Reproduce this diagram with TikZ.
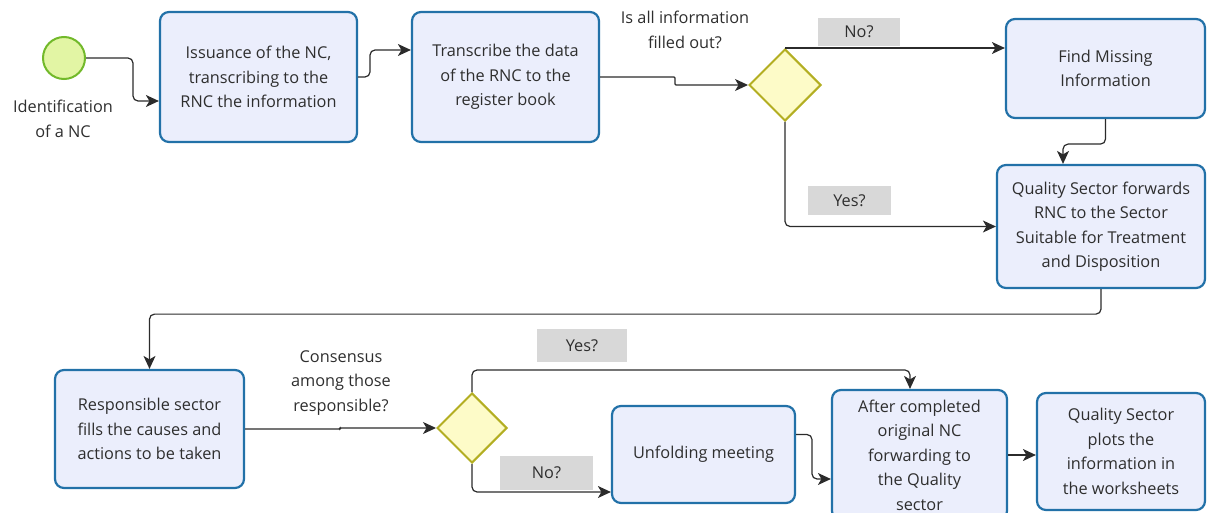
\documentclass[tikz,border=0pt]{standalone}
\usepackage{fontspec}
\setmainfont{Open Sans}
\usetikzlibrary{shapes.geometric,arrows.meta,calc}
\definecolor{boxfill}{HTML}{EBEEFC}
\definecolor{boxline}{HTML}{2271A8}
\definecolor{gatefill}{HTML}{FDFBC8}
\definecolor{gateline}{HTML}{B3AE22}
\definecolor{startfill}{HTML}{E2F5A4}
\definecolor{startline}{HTML}{72B92A}
\definecolor{flowc}{HTML}{2B2B2B}
\definecolor{txt}{HTML}{2E2E2E}
\definecolor{labfill}{HTML}{D8D8D8}
\begin{document}
\begin{tikzpicture}[x=1pt,y=-1pt,
  task/.style={draw=boxline, fill=boxfill, line width=2.2pt, rounded corners=9pt,
    align=center, text=txt, font=\fontsize{16.3}{24.5}\selectfont, inner sep=0pt},
  gate/.style={diamond, draw=gateline, fill=gatefill, line width=2pt,
    minimum width=72pt, minimum height=72pt, inner sep=0pt},
  flow/.style={draw=flowc, line width=1.2pt, -{Stealth[length=13pt,width=12pt,inset=3.5pt]}, rounded corners=5pt},
  lab/.style={fill=labfill, text=txt, font=\fontsize{16.3}{18}\selectfont, inner sep=0pt},
  plain/.style={align=center, text=txt, font=\fontsize{16.3}{24.5}\selectfont, inner sep=0pt}
]
\useasboundingbox (0,0) rectangle (1212,513);

% events and gateways
\node[circle, draw=startline, fill=startfill, line width=2pt, minimum size=42pt, inner sep=0pt] (start) at (64,58) {};
\node[plain] (startlab) at (63,119) {Identification\\of a NC};

\node[task, minimum width=197pt, minimum height=130pt] (b1) at (258.5,77) {Issuance of the NC,\\transcribing to the\\RNC the information};
\node[task, minimum width=187pt, minimum height=130pt] (b2) at (505.5,77) {Transcribe the data\\of the RNC to the\\register book};
\node[gate] (g1) at (785,85) {};
\node[plain] (q1) at (685,30) {Is all information\\filled out?};
\node[task, minimum width=199pt, minimum height=99pt] (b3) at (1105.5,68.5) {Find Missing\\Information};
\node[task, minimum width=208pt, minimum height=123pt] (b4) at (1101,226.5) {Quality Sector forwards\\RNC to the Sector\\Suitable for Treatment\\and Disposition};
\node[lab, minimum width=82pt, minimum height=28pt] (no1) at (859,32) {No?};
\node[lab, minimum width=83pt, minimum height=29pt] (yes1) at (849.5,200.5) {Yes?};

\node[task, minimum width=189pt, minimum height=118pt] (b5) at (149.5,429) {Responsible sector\\fills the causes and\\actions to be taken};
\node[plain] (q2) at (341,383) {Consensus\\among those\\responsible?};
\node[gate, minimum width=70pt, minimum height=70pt] (g2) at (472,428) {};
\node[task, minimum width=183pt, minimum height=97pt] (b6) at (703.5,454.5) {Unfolding meeting};
\node[task, minimum width=175pt, minimum height=130pt] (b7) at (919.5,455) {After completed\\original NC\\forwarding to\\the Quality\\sector};
\node[task, minimum width=168pt, minimum height=117pt] (b8) at (1121,451.5) {Quality Sector\\plots the\\information in\\the worksheets};
\node[lab, minimum width=90pt, minimum height=33pt] (yes2) at (582,345.5) {Yes?};
\node[lab, minimum width=93pt, minimum height=34pt] (no2) at (546.5,473) {No?};

% connectors
\draw[flow] (start.east) -| (133,101) -- ($(b1.west)+(0,24)$);
\draw[flow] (b1.east) -- (370,77) -- (370,50) -- ($(b2.west)+(0,-27)$);
\draw[flow, rounded corners=1pt] (b2.east) -- (675,77) -- (675,85) -- (g1.west);
\draw[flow] (g1.north) -- (b3.west |- g1.north);
\draw[flow] (g1.south) |- (b4.west);
\draw[flow] (b3.south) -- ++(0,25) -| ($(b4.north)+(-38,0)$);
\draw[flow] (b4.south) -- ++(0,25) -| (b5.north);
\draw[flow, rounded corners=1pt] (b5.east) -- (340,429) -- (340,428) -- (g2.west);
\draw[flow] (g2.north) -- (472,370) -| ($(b7.north)+(-9.5,0)$);
\draw[flow] (g2.south) |- ($(b6.west)+(0,37.5)$);
\draw[flow] ($(b6.east)+(0,-20)$) -- (812,434.5) -- (812,479) -- ($(b7.west)+(0,24)$);
\draw[flow] (b7.east) -- (b8.west |- b7.east);
\end{tikzpicture}
\end{document}
